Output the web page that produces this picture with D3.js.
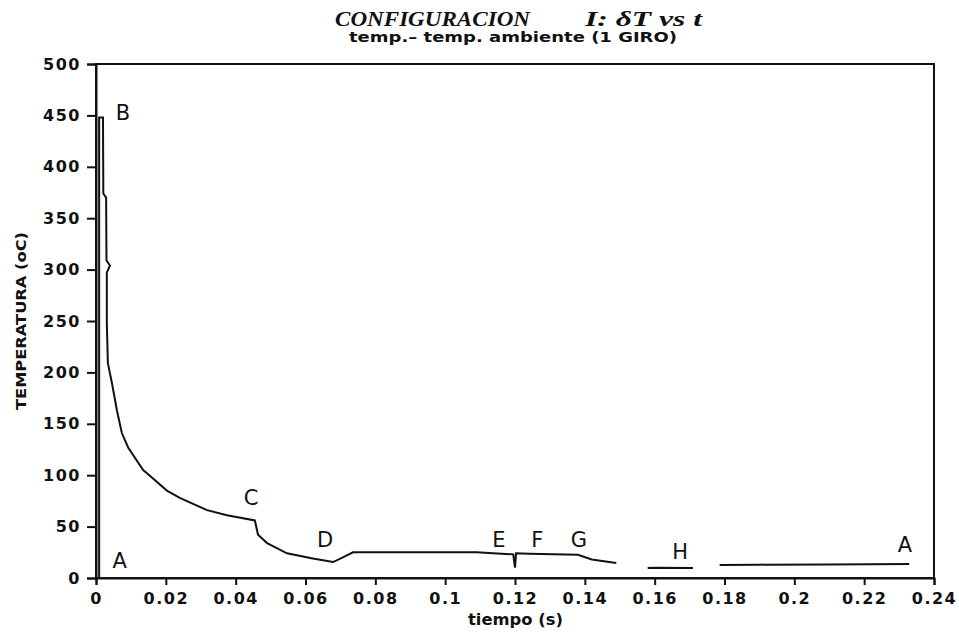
<!DOCTYPE html>
<html>
<head>
<meta charset="utf-8">
<title>Configuracion I</title>
<script src="https://d3js.org/d3.v7.min.js"></script>
<style>
body { margin: 0; background: white; }
.tick text { font-family: "DejaVu Sans", sans-serif; font-size: 16px; font-weight: bold; letter-spacing: 1.5px; fill: #111; }
.axis path, .axis line { stroke: #111; stroke-width: 2; }
</style>
</head>
<body>
<div class="chart"></div>
<script>
// tick values
var xTicks = [0, 0.02, 0.04, 0.06, 0.08, 0.1, 0.12, 0.14, 0.16, 0.18, 0.2, 0.22, 0.24];
var yTicks = [0, 50, 100, 150, 200, 250, 300, 350, 400, 450, 500];

// main trace (tiempo s, temperatura oC)
var mainT = [0, 0.0009, 0.0009, 0.0020, 0.0021, 0.0029, 0.0030, 0.0040, 0.0031, 0.0031, 0.0034, 0.0046, 0.0060, 0.0074, 0.0092, 0.0135, 0.0146, 0.0203, 0.0240, 0.0318, 0.0375, 0.0455, 0.0464, 0.0490, 0.0547, 0.0621, 0.0679, 0.0707, 0.0736, 0.0900, 0.1090, 0.1195, 0.1200, 0.1203, 0.1240, 0.1380, 0.1420, 0.1490];
var mainV = [0, 0, 448, 448, 374, 370, 309, 304, 297, 248, 209, 189, 163, 141, 127, 105, 102, 85, 78, 66, 61, 56, 42, 34, 24, 19, 15.5, 20, 25, 25, 25, 23, 10, 24, 23.5, 22.5, 18, 14.5];
// segment around H
var hT = [0.1580, 0.1600, 0.1710];
var hV = [9.7, 10, 9.8];
// last segment
var endT = [0.1786, 0.1900, 0.2100, 0.2329];
var endV = [12.6, 13, 13.2, 13.6];

// point labels
var labelNames = ["B", "A", "C", "D", "E", "F", "G", "H", "A"];
var labelT = [0.0077, 0.0068, 0.0444, 0.0656, 0.1154, 0.1264, 0.1383, 0.1673, 0.2317];
var labelV = [446, 9.5, 71, 30, 30, 30, 30, 18.5, 25];

var W = 959, H = 636;
var margin = {top: 64, right: 25, bottom: 58, left: 96};

var svg = d3.select(".chart").append("svg")
    .attr("width", W)
    .attr("height", H);

var xScale = d3.scaleLinear().domain([0, 0.24]).range([margin.left, W - margin.right]);
var yScale = d3.scaleLinear().domain([0, 500]).range([H - margin.bottom, margin.top]);

// frame
svg.append("rect")
    .attr("x", margin.left)
    .attr("y", margin.top)
    .attr("width", W - margin.left - margin.right)
    .attr("height", H - margin.top - margin.bottom)
    .attr("fill", "none")
    .attr("stroke", "#111")
    .attr("stroke-width", 2);

svg.append("g")
    .attr("class", "x axis")
    .attr("transform", "translate(0," + (H - margin.bottom) + ")")
    .call(d3.axisBottom(xScale).tickValues(xTicks).tickSizeOuter(0).tickSize(7).tickPadding(8)
        .tickFormat(function(d) { return String(+d.toFixed(2)); }));

svg.append("g")
    .attr("class", "y axis")
    .attr("transform", "translate(" + margin.left + ",0)")
    .call(d3.axisLeft(yScale).tickValues(yTicks).tickSizeOuter(0).tickSize(9).tickPadding(6));

var line = d3.line()
    .x(function(d) { return xScale(d[0]); })
    .y(function(d) { return yScale(d[1]); });

[[mainT, mainV], [hT, hV], [endT, endV]].forEach(function(s) {
    svg.append("path")
        .datum(d3.zip(s[0], s[1]))
        .attr("d", line)
        .attr("fill", "none")
        .attr("stroke", "#111")
        .attr("stroke-width", 2);
});

svg.selectAll(".ptlabel")
    .data(labelNames)
    .enter().append("text")
    .attr("class", "ptlabel")
    .attr("x", function(d, i) { return xScale(labelT[i]); })
    .attr("y", function(d, i) { return yScale(labelV[i]); })
    .attr("text-anchor", "middle")
    .style("font-family", "DejaVu Sans, sans-serif")
    .style("font-size", "21px")
    .style("fill", "#111")
    .text(function(d) { return d; });

// titles
svg.append("text")
    .attr("x", 335).attr("y", 26)
    .attr("textLength", 195).attr("lengthAdjust", "spacingAndGlyphs")
    .style("font-family", "Liberation Serif, serif")
    .style("font-style", "italic")
    .style("font-weight", "bold")
    .style("font-size", "22px")
    .style("fill", "#111")
    .text("CONFIGURACION");

svg.append("text")
    .attr("x", 585).attr("y", 26)
    .attr("textLength", 117).attr("lengthAdjust", "spacingAndGlyphs")
    .style("font-family", "Liberation Serif, serif")
    .style("font-style", "italic")
    .style("font-weight", "bold")
    .style("font-size", "22px")
    .style("fill", "#111")
    .text("I: δT vs t");

svg.append("text")
    .attr("x", 349).attr("y", 42)
    .attr("textLength", 328).attr("lengthAdjust", "spacingAndGlyphs")
    .style("font-family", "DejaVu Sans, sans-serif")
    .style("font-weight", "bold")
    .style("font-size", "14px")
    .style("fill", "#111")
    .text("temp.– temp. ambiente (1 GIRO)");

svg.append("text")
    .attr("x", 468).attr("y", 625)
    .attr("textLength", 95).attr("lengthAdjust", "spacingAndGlyphs")
    .style("font-family", "DejaVu Sans, sans-serif")
    .style("font-weight", "bold")
    .style("font-size", "15px")
    .style("fill", "#111")
    .text("tiempo (s)");

svg.append("text")
    .attr("transform", "translate(26,410) rotate(-90)")
    .attr("textLength", 178).attr("lengthAdjust", "spacingAndGlyphs")
    .style("font-family", "DejaVu Sans, sans-serif")
    .style("font-weight", "bold")
    .style("font-size", "14px")
    .style("fill", "#111")
    .text("TEMPERATURA (oC)");
</script>
</body>
</html>
